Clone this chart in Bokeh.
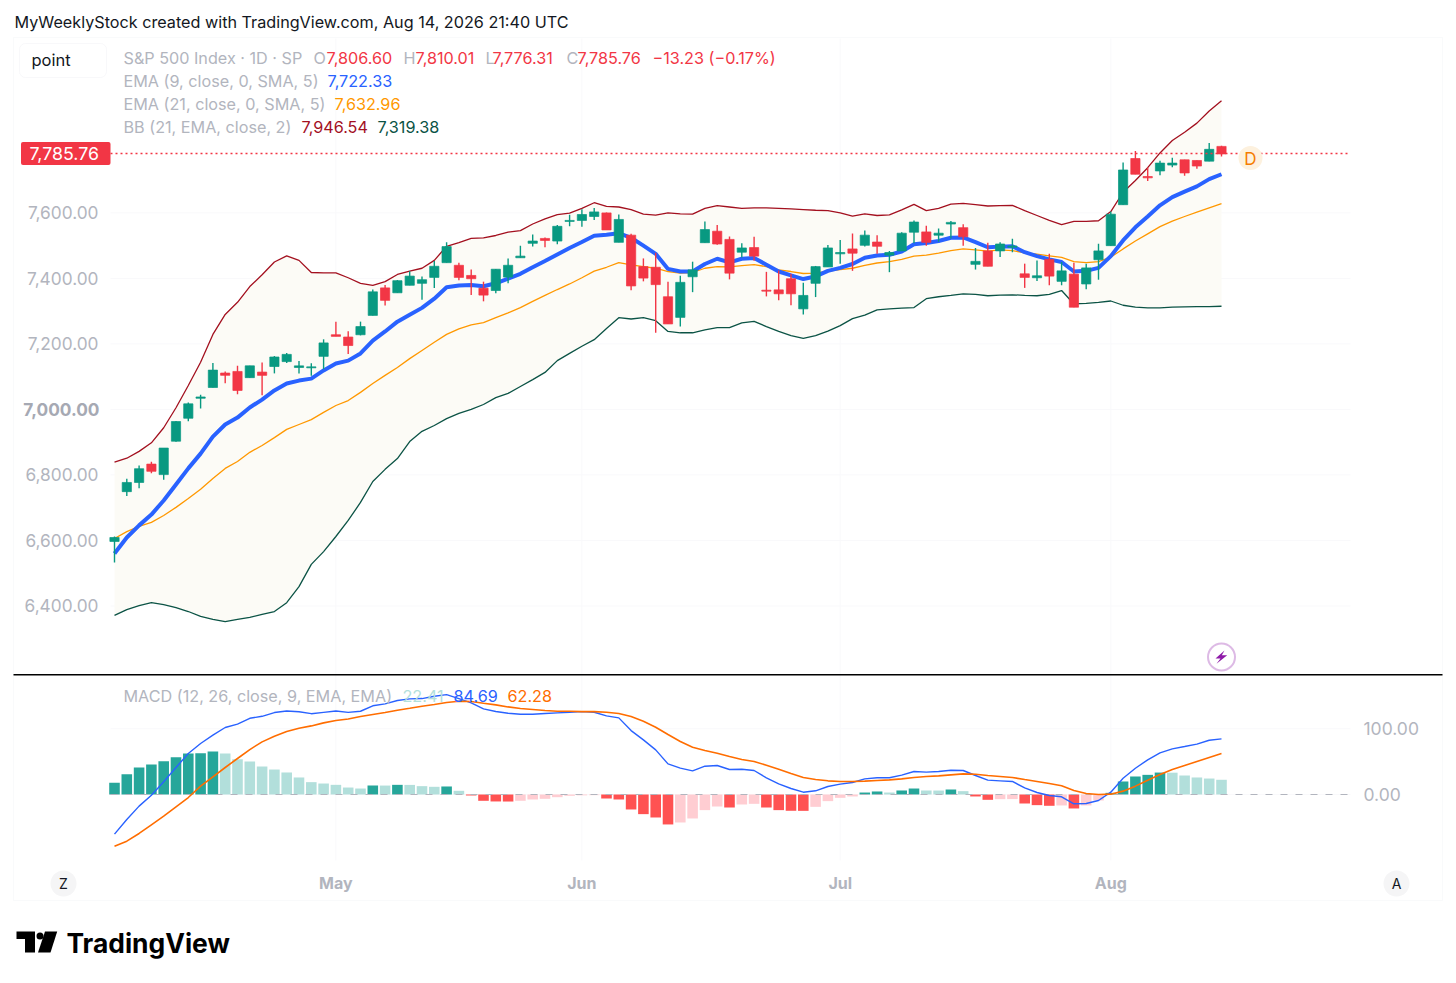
from bokeh.plotting import figure
from bokeh.models import (Range1d, LinearAxis, FixedTicker, NumeralTickFormatter, Label,
                          BoxAnnotation, PolyAnnotation, ColumnDataSource)
from bokeh.embed import file_html
from bokeh.resources import INLINE

open_ = [6597,6749,6777,6833,6801,6903,6973,7034,7067,7111,
         7116,7097,7114,7131,7146,7128,7127,7162,7228,7221,
         7228,7287,7371,7356,7379,7385,7403,7448,7440,7409,
         7370,7363,7404,7463,7507,7522,7514,7574,7577,7589,
         7600,7510,7532,7436,7434,7344,7281,7405,7509,7544,
         7519,7480,7494,7364,7365,7399,7307,7385,7435,7475,
         7490,7501,7511,7471,7484,7541,7542,7532,7566,7555,
         7443,7484,7484,7495,7414,7402,7458,7391,7413,7383,
         7457,7500,7625,7766,7711,7728,7746,7762,7760,7758,7803]
high = [6612,6788,6829,6840,6882,6965,7021,7045,7142,7116,
        7133,7133,7143,7163,7172,7148,7141,7214,7268,7239,
        7268,7366,7380,7395,7422,7406,7453,7510,7448,7427,
        7390,7429,7461,7500,7534,7525,7563,7594,7611,7615,
        7601,7595,7536,7461,7478,7390,7408,7451,7574,7563,
        7528,7507,7527,7420,7424,7414,7387,7438,7502,7517,
        7537,7546,7532,7484,7541,7577,7561,7552,7575,7565,
        7493,7509,7510,7521,7445,7455,7475,7450,7448,7445,
        7506,7604,7754,7789,7738,7759,7768,7762,7760,7813,7805]
low = [6533,6736,6759,6805,6785,6901,6964,7003,7067,7080,
       7046,7097,7043,7110,7142,7110,7103,7123,7223,7169,
       7226,7287,7317,7356,7379,7335,7371,7448,7394,7349,
       7330,7355,7385,7463,7497,7495,7504,7559,7558,7578,
       7548,7510,7364,7391,7234,7261,7253,7358,7509,7503,
       7397,7464,7454,7345,7333,7318,7290,7343,7435,7445,
       7423,7497,7475,7419,7484,7507,7500,7512,7522,7500,
       7427,7437,7465,7480,7371,7392,7379,7379,7312,7367,
       7396,7500,7625,7718,7697,7715,7739,7713,7735,7758,7772]
close = [6609,6777,6819,6811,6882,6963,7017,7038,7120,7104,
         7058,7133,7104,7160,7168,7133,7130,7203,7223,7195,
         7253,7359,7333,7393,7407,7396,7437,7497,7403,7399,
         7349,7428,7440,7468,7514,7516,7559,7577,7595,7603,
         7548,7580,7377,7401,7381,7261,7388,7426,7549,7505,
         7416,7493,7468,7361,7353,7353,7348,7436,7493,7479,
         7477,7532,7498,7479,7538,7572,7510,7538,7571,7527,
         7452,7437,7505,7499,7403,7408,7407,7423,7312,7432,
         7484,7596,7731,7718,7707,7752,7752,7722,7743,7794,7780]
ema9 = [6560,6609,6646,6679,6722,6771,6820,6865,6917,6954,
        6975,7006,7030,7058,7079,7088,7094,7119,7140,7149,
        7171,7210,7238,7268,7289,7310,7338,7373,7378,7380,
        7376,7385,7399,7414,7434,7453,7473,7493,7511,7530,
        7533,7538,7524,7500,7475,7429,7421,7421,7444,7460,
        7449,7460,7462,7442,7421,7409,7398,7406,7423,7432,
        7444,7463,7470,7472,7482,7504,7508,7514,7524,7525,
        7511,7495,7497,7498,7480,7468,7458,7450,7421,7423,
        7432,7468,7516,7556,7589,7623,7648,7665,7681,7703,7718]
ema21 = [6606,6627,6643,6655,6676,6701,6728,6756,6789,6820,
         6841,6869,6890,6914,6939,6954,6969,6991,7012,7027,
         7052,7079,7104,7128,7155,7180,7205,7229,7246,7258,
         7265,7280,7295,7311,7330,7348,7366,7383,7402,7422,
         7434,7448,7441,7436,7431,7421,7416,7418,7431,7436,
         7435,7439,7442,7436,7426,7421,7415,7416,7422,7427,
         7431,7440,7447,7451,7458,7468,7471,7477,7485,7490,
         7487,7483,7487,7485,7478,7474,7469,7464,7451,7448,
         7451,7465,7490,7514,7536,7558,7575,7589,7602,7615,7628]
bb_up = [6839,6851,6872,6898,6944,7005,7073,7144,7229,7290,
         7327,7375,7411,7450,7469,7455,7418,7417,7417,7402,
         7385,7379,7390,7412,7422,7431,7455,7498,7509,7522,
         7524,7531,7541,7546,7566,7582,7595,7599,7614,7631,
         7620,7618,7610,7596,7593,7600,7597,7596,7614,7622,
         7618,7614,7615,7615,7614,7612,7610,7608,7607,7600,
         7590,7597,7592,7594,7609,7626,7607,7614,7627,7629,
         7625,7621,7622,7623,7607,7592,7577,7564,7574,7574,
         7576,7604,7663,7699,7738,7783,7821,7846,7874,7911,7942]
bb_lo = [6371,6389,6401,6410,6404,6395,6383,6368,6359,6352,
         6359,6365,6374,6383,6410,6459,6527,6566,6612,6661,
         6716,6780,6817,6850,6902,6933,6951,6972,6988,7000,
         7015,7036,7049,7070,7091,7113,7149,7171,7193,7213,
         7247,7280,7276,7280,7271,7238,7234,7234,7243,7250,
         7250,7264,7269,7253,7238,7225,7217,7225,7239,7256,
         7277,7288,7304,7307,7309,7311,7338,7344,7348,7353,
         7351,7347,7349,7350,7348,7347,7351,7363,7322,7324,
         7327,7331,7318,7312,7310,7310,7312,7313,7314,7314,7315]
macd = [-60.3,-38,-17.7,-1,19.3,41.1,62.4,77.6,90.3,102,
        107,116,119,124.7,127,126,123,125,127,125,
        126.7,135,138,143,145.5,146,149.5,152,146,139.5,
        130.3,126.3,123.7,122.2,122.2,123.2,124.2,125.2,126.2,125.2,
        119.7,116.6,97.3,83.1,67.9,46.6,40.1,36,43.1,44.1,
        38,38.5,36.5,25.4,16.2,9.1,3.5,5.6,12.2,15.7,
        18.3,23.8,25.4,25.4,29.4,35,34,35,37,36.5,
        28.9,21.8,20.8,19.8,10.1,3,-1.5,-3.5,-14.2,-13.7,
        -9.1,3.5,24.8,40,52.7,63.4,69.5,73,76.6,82.6,84.69]
signal = [-78.6,-71,-59.3,-46.1,-33,-18.8,-4.6,12.7,26.9,41.1,
          54.8,68.4,80.1,88.7,95.8,100.9,104.4,109,112.6,115,
          118.6,121.7,124.7,128.3,131.3,134.4,136.9,139.9,142,141.5,
          138.9,136.4,133.3,130.8,129.3,127.8,126.8,126.8,126.2,126.2,
          125.2,123.2,118.6,111.5,102.4,91.3,80.6,72,67,62.9,
          57.8,53.2,50.2,44.6,38.5,31.9,25.9,22.8,20.8,19.8,
          19.8,20.3,21.3,22.3,23.8,25.9,27.4,28.4,29.9,31.4,
          30.9,28.9,27.4,25.9,22.8,19.8,16.7,13.2,6.1,1.5,
          0,0.5,5.1,12.7,21.8,30.4,38,44.1,50.2,56.3,62.28]
hist = [17.7,30.9,41.1,45.6,50.7,56.8,62.4,62.6,65.4,62.4,
        53.7,50.2,42.6,38,33.5,25.9,18.8,16.7,14.7,10.6,
        9.1,13.7,13.6,14.7,14.6,12.7,11.7,12.2,5.6,-1.5,
        -9.6,-10.6,-10.7,-9.6,-7.6,-6.6,-4.1,-2,-1.3,-1,
        -6.1,-7.6,-22.8,-29.9,-35,-45.6,-42.6,-36.5,-23.8,-18.3,
        -19.8,-15.2,-14.2,-19.8,-23.8,-24.8,-24.9,-18.8,-10.1,-5.1,
        -3,3,4.6,3,6.1,9.1,6.1,6,7.6,5.1,
        -3,-8.1,-7.1,-7,-13.7,-16.2,-17.2,-16.7,-21.3,-16.7,
        -9.1,2.5,19.8,27.4,29.9,33.4,33.2,28.9,25.9,24.3,22.41]

price_ticks = [6400, 6600, 6800, 7000, 7200, 7400, 7600]
macd_ticks = [0, 100]
month_ticks = [18, 38, 59, 81]
month_labels = ["May", "Jun", "Jul", "Aug"]
last_price = 7781

UP, DOWN = "#089981", "#f23645"
GREY = "#b2b5be"
FONT = "Inter"

x = list(range(len(close)))
W, H = 1452, 975
# the frame fills the canvas; pane limits in data units
PANE_X = (-0.325, 100.49)
PANE_Y = (5622.9, 8132.4)
p = figure(width=W, height=H, output_backend="svg", toolbar_location=None,
           x_range=Range1d(-114 / 12.3, (W - 114) / 12.3), y_range=Range1d(5271.8, 8248.4),
           min_border_left=0, min_border_right=0, min_border_top=0, min_border_bottom=0,
           x_axis_type=None, y_axis_type=None)
p.outline_line_color = None
p.grid.visible = False
p.extra_y_ranges = {"macd": Range1d(-275.5, 1208.5)}

# axes
left = LinearAxis(ticker=FixedTicker(ticks=price_ticks), formatter=NumeralTickFormatter(format="0,0.00"),
                  major_label_overrides={7000: " "})
right = LinearAxis(y_range_name="macd", ticker=FixedTicker(ticks=macd_ticks),
                   formatter=NumeralTickFormatter(format="0.00"))
bottom = LinearAxis(ticker=FixedTicker(ticks=month_ticks),
                    major_label_overrides=dict(zip(month_ticks, month_labels)))
for a, standoff, size in ((left, -104, 17.3), (right, -95, 17.5), (bottom, -109, 16)):
    a.axis_line_color = None
    a.major_tick_line_color = None
    a.minor_tick_line_color = None
    a.major_label_standoff = standoff
    a.major_label_text_color = GREY
    a.major_label_text_font = FONT
    a.major_label_text_font_size = f"{size}px"
bottom.major_label_text_font_style = "bold"
p.add_layout(left, "left")
p.add_layout(right, "right")
p.add_layout(bottom, "below")

# faint grid
GRID = "#f9f9fb"
p.segment([PANE_X[0]] * len(price_ticks), price_ticks, [PANE_X[1]] * len(price_ticks), price_ticks, line_color=GRID)
p.segment([PANE_X[0]] * len(macd_ticks), macd_ticks, [PANE_X[1]] * len(macd_ticks), macd_ticks,
          y_range_name="macd", line_color=GRID)
p.segment(month_ticks, [PANE_Y[0]] * len(month_ticks), month_ticks, [PANE_Y[1]] * len(month_ticks), line_color=GRID)

def box(l, t, r, b, **kw):
    kw.setdefault("line_color", None)
    kw.setdefault("fill_alpha", 1)
    a = BoxAnnotation(left=l, right=r, top=t, bottom=b,
                      left_units="canvas", right_units="canvas", top_units="canvas", bottom_units="canvas", **kw)
    p.add_layout(a)
    return a
def txt(s, px, py, color=GREY, size=16, align="left", style="normal", font=FONT):
    a = Label(x=px, y=py, x_units="canvas", y_units="canvas", text=s, text_color=color,
              text_font=font, text_font_size=f"{size}px", text_align=align, text_baseline="middle",
              text_font_style=style)
    p.add_layout(a)
    return a
def poly(xs, ys, color="#000000"):
    p.add_layout(PolyAnnotation(xs=xs, ys=ys, xs_units="canvas", ys_units="canvas",
                                fill_color=color, fill_alpha=1, line_color=None))

# price pane
p.varea(x, y1=bb_lo, y2=bb_up, fill_color="#fcfbf6")
p.line(x, bb_up, line_color="#a3101f", line_width=1.3)
p.line(x, bb_lo, line_color="#0b5345", line_width=1.3)
p.line(x, ema21, line_color="#ff9800", line_width=1.3)
p.line(x, ema9, line_color="#2962ff", line_width=4)

candle_color = [UP if c >= o else DOWN for o, c in zip(open_, close)]
src = ColumnDataSource(dict(x=x, o=open_, h=high, l=low, c=close, color=candle_color))
p.segment("x", "h", "x", "l", source=src, line_color="color", line_width=1.4)
p.vbar("x", 0.75, "o", "c", source=src, fill_color="color", line_color="color", line_alpha=0.7, line_width=1)

p.segment([PANE_X[0]], [last_price], [PANE_X[1]], [last_price], line_color=DOWN, line_width=1.5, line_dash="2 3")

# macd pane
hist_color = []
for i, v in enumerate(hist):
    prev = hist[i - 1] if i else 0
    if v >= 0:
        hist_color.append("#26a69a" if v > prev else "#b2dfdb")
    else:
        hist_color.append("#ff5252" if v < prev else "#ffcdd2")
p.vbar(x, 0.86, 0, hist, y_range_name="macd", fill_color=hist_color, line_color=None)
p.segment([PANE_X[0]], [0], [PANE_X[1]], [0], y_range_name="macd", line_color=GREY, line_width=1.2, line_dash="7 8")
p.line(x, macd, y_range_name="macd", line_color="#2962ff", line_width=1.4)
p.line(x, signal, y_range_name="macd", line_color="#ff6d00", line_width=1.6)

# frame, separator
box(13, 37, 1442, 900, fill_alpha=0, line_color="#eceef2", line_width=1)
box(13, 673.5, 1442, 675, fill_color="#000000")

# header
txt("MyWeeklyStock created with TradingView.com, Aug 14, 2026 21:40 UTC", 14, 21, color="#131722", size=16.2)
box(19, 43, 106, 77, fill_color="#ffffff", line_color="#e8e9ee", line_width=1, border_radius=6)
txt("point", 31, 59, color="#131722", size=16.5)

# legends
for s, px, py, col in [
    ("S&P 500 Index · 1D · SP", 123, 57.3, GREY), ("O", 313, 57.3, GREY), ("7,806.60", 326, 57.3, DOWN),
    ("H", 403, 57.3, GREY), ("7,810.01", 415, 57.3, DOWN), ("L", 485, 57.3, GREY), ("7,776.31", 492, 57.3, DOWN),
    ("C", 566, 57.3, GREY), ("7,785.76", 577, 57.3, DOWN), ("−13.23 (−0.17%)", 652, 57.3, DOWN),
    ("EMA (9, close, 0, SMA, 5)", 123, 80.3, GREY), ("7,722.33", 327, 80.3, "#2962ff"),
    ("EMA (21, close, 0, SMA, 5)", 123, 103.3, GREY), ("7,632.96", 334, 103.3, "#ff9800"),
    ("BB (21, EMA, close, 2)", 123, 126.3, GREY), ("7,946.54", 301, 126.3, "#a3101f"), ("7,319.38", 377, 126.3, "#0b5345"),
    ("MACD (12, 26, close, 9, EMA, EMA)", 123, 695.3, GREY), ("22.41", 402, 695.3, "#b2dfdb"),
    ("84.69", 453, 695.3, "#2962ff"), ("62.28", 507, 695.3, "#ff6d00"),
]:
    txt(s, px, py, color=col, size=16.2)

# last price tag, bold 7000 tick
box(20.5, 141.5, 110, 164.5, fill_color=DOWN, border_radius=2)
txt("7,785.76", 63.7, 152.5, color="#ffffff", size=17.8, align="center")
txt("7,000.00", 99, 409, color="#a6a9b3", size=17.3, align="right", style="bold")

# badges
box(1238, 145.5, 1262, 169.5, fill_color="#fdf1de", border_radius=12)
txt("D", 1250, 158, color="#f57c00", size=17, align="center")
box(1207.5, 643, 1234.5, 670, fill_color="#ffffff", line_color="#8e1aa8", line_width=2, border_radius=14)
poly([1224, 1215, 1220, 1216, 1226.7, 1221.3], [650, 658, 658, 663.3, 654.7, 654.7], "#8e1aa8")
box(50, 870, 76, 896, fill_color="#f5f5f6", border_radius=13)
txt("Z", 63, 883, color="#131722", size=14, align="center")
box(1383, 870, 1409, 896, fill_color="#f5f5f6", border_radius=13)
txt("A", 1396, 883, color="#131722", size=14, align="center")

# logo
poly([16, 34.5, 34.5, 24.5, 24.5, 16], [931, 931, 952, 952, 938.5, 938.5])
poly([44.5, 56.7, 50, 37.5], [931, 931, 952, 952])
box(36, 932, 43, 939, fill_color="#000000", border_radius=4)
txt("TradingView", 66, 942, color="#000000", size=26.4, style="bold")

open("out.html", "w").write(file_html(p, INLINE))
